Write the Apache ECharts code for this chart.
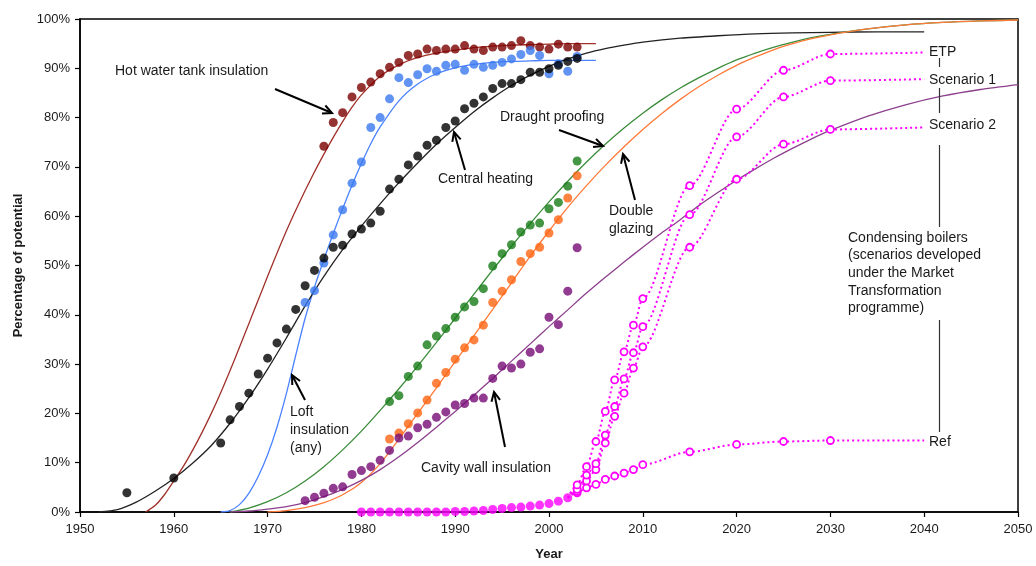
<!DOCTYPE html>
<html><head><meta charset="utf-8">
<script src="https://cdn.jsdelivr.net/npm/echarts@6/dist/echarts.min.js"></script>
<style>html,body{margin:0;padding:0;background:#fff}#c{width:1036px;height:566px}</style>
</head><body><div id="c"></div>
<script>
// ---------- axis ticks ----------
const xTicks = [1950, 1960, 1970, 1980, 1990, 2000, 2010, 2020, 2030, 2040, 2050];
const yTicks = [0, 10, 20, 30, 40, 50, 60, 70, 80, 90, 100];

// ---------- observed data (points) ----------
const hotWaterYears = [1976,1977,1978,1979,1980,1981,1982,1983,1984,1985,1986,1987,1988,1989,1990,1991,1992,1993,1994,1995,1996,1997,1998,1999,2000,2001,2002,2003];
const hotWaterValues = [74.2,79.0,81.0,84.2,86.1,87.2,88.9,90.2,91.2,92.6,92.9,93.9,93.6,93.9,93.9,94.6,93.9,93.6,94.3,94.3,94.6,95.6,94.6,94.3,93.9,94.9,94.3,94.3];

const loftYears = [1974,1975,1976,1977,1978,1979,1980,1981,1982,1983,1984,1985,1986,1987,1988,1989,1990,1991,1992,1993,1994,1995,1996,1997,1998,1999,2000,2001,2002,2003];
const loftValues = [42.5,44.9,50.5,56.2,61.3,66.7,71.0,78.0,80.0,83.8,88.1,87.1,88.7,89.9,89.4,90.6,90.8,89.6,90.8,90.2,90.6,91.2,91.9,92.8,93.6,92.6,88.9,90.9,89.4,92.4];

const heatingYears = [1955,1960,1965,1966,1967,1968,1969,1970,1971,1972,1973,1974,1975,1976,1977,1978,1979,1980,1981,1982,1983,1984,1985,1986,1987,1988,1989,1990,1991,1992,1993,1994,1995,1996,1997,1998,1999,2000,2001,2002,2003];
const heatingValues = [3.9,6.9,14.0,18.7,21.4,24.1,28.0,31.2,34.3,37.1,41.1,45.9,49.0,51.5,53.7,54.1,56.4,57.4,58.6,61.0,65.5,67.5,70.4,72.2,74.4,75.4,78.0,79.3,81.8,82.9,84.2,85.9,86.9,86.9,87.7,89.2,89.2,89.9,90.6,91.4,92.0];

const draughtYears = [1983,1984,1985,1986,1987,1988,1989,1990,1991,1992,1993,1994,1995,1996,1997,1998,1999,2000,2001,2002,2003];
const draughtValues = [22.4,23.6,27.5,29.6,33.9,35.7,37.2,39.5,41.6,42.7,45.3,49.9,52.4,54.2,56.8,58.2,58.6,61.5,62.8,66.1,71.2];

const glazingYears = [1983,1984,1985,1986,1987,1988,1989,1990,1991,1992,1993,1994,1995,1996,1997,1998,1999,2000,2001,2002,2003];
const glazingValues = [14.8,16.0,17.9,20.1,22.7,26.1,28.3,31.0,33.3,34.9,37.9,42.5,44.8,47.1,50.8,52.4,53.7,56.6,59.3,63.7,68.2];

const cavityYears = [1974,1975,1976,1977,1978,1979,1980,1981,1982,1983,1984,1985,1986,1987,1988,1989,1990,1991,1992,1993,1994,1995,1996,1997,1998,1999,2000,2001,2002,2003];
const cavityValues = [2.3,3.0,3.8,4.8,5.1,7.6,8.4,9.2,10.5,12.5,15.0,15.4,17.1,17.8,19.2,20.3,21.7,22.0,23.1,23.1,27.1,29.6,29.2,30.0,32.4,33.1,39.5,38.0,44.8,53.6];

const boilerYears = [1980,1981,1982,1983,1984,1985,1986,1987,1988,1989,1990,1991,1992,1993,1994,1995,1996,1997,1998,1999,2000,2001,2002];
const boilerValues = [0,0,0,0,0,0,0,0,0,0,0.1,0.1,0.2,0.3,0.5,0.7,0.9,1.0,1.2,1.4,1.7,2.2,2.9];

// ---------- condensing boiler scenarios ----------
const scenarioYears = [2002,2003,2004,2005,2006,2007,2008,2009,2010,2015,2020,2025,2030,2040];
const etpValues   = [2.9,5.5,9.2,14.3,20.4,26.8,32.5,37.9,43.3,66.2,81.7,89.6,92.9,93.2];
const scen1Values = [2.9,4.6,7.5,9.8,15.6,21.4,27.0,32.3,37.6,60.3,76.1,84.2,87.5,87.8];
const scen2Values = [2.9,4.2,6.3,8.6,14.0,19.4,24.1,29.2,33.5,53.7,67.5,74.6,77.6,78.0];
const refValues   = [2.9,3.9,4.9,5.6,6.6,7.3,7.9,8.6,9.6,12.2,13.7,14.3,14.5,14.5];

// ---------- fitted curves ----------
const hotWaterFitYears = [1957,1958,1959,1960,1961,1962,1963,1964,1965,1966,1967,1968,1969,1970,1971,1972,1973,1974,1975,1976,1977,1978,1979,1980,1982,1984,1986,1988,1990,1992,1994,1996,1998,2000,2002,2005];
const hotWaterFitValues = [0,1.3,3.5,6.3,9.2,12.5,16.1,20.0,24.2,28.7,33.4,38.2,43.0,47.8,52.5,57.0,61.2,65.2,69.0,72.6,76.0,79.2,82.1,84.6,88.4,90.7,92.2,93.1,93.7,94.2,94.5,94.7,94.8,94.9,95,95];

const loftFitYears = [1965,1966,1967,1968,1969,1970,1971,1972,1973,1974,1975,1976,1977,1978,1979,1980,1981,1982,1984,1986,1988,1990,1992,1994,1996,1998,2000,2002,2005];
const loftFitValues = [0,0.3,1.5,3.8,7.2,11.6,17.2,24.0,31.8,39.3,45.6,51.2,56.5,61.5,66.3,70.7,74.7,78.1,83.4,86.8,88.9,90.1,90.8,91.2,91.4,91.5,91.6,91.6,91.6];

const heatingFitYears = [1952,1954,1956,1958,1960,1962,1964,1966,1968,1970,1972,1974,1976,1978,1980,1982,1984,1986,1988,1990,1992,1994,1996,1998,2000,2002,2004,2006,2008,2010,2014,2018,2022,2026,2030,2035,2040];
const heatingFitValues = [0,0.5,2.0,4.2,6.8,9.9,13.5,18.0,23.2,29.0,35.3,41.8,47.8,53.2,58.0,62.5,66.8,70.8,74.6,78.0,81.2,84.0,86.5,88.6,90.4,91.9,93.1,94.0,94.7,95.3,96.1,96.6,97.0,97.2,97.3,97.4,97.4];

const draughtFitYears = [1966,1968,1970,1972,1974,1976,1978,1980,1982,1984,1986,1988,1990,1992,1994,1996,1998,2000,2002,2004,2006,2008,2010,2012,2014,2016,2018,2020,2022,2024,2026,2028,2030,2034,2038,2042,2046,2050];
const draughtFitValues = [0,0.8,2.1,3.9,6.3,9.2,12.6,16.4,20.6,25.0,29.6,34.4,39.3,44.2,49.1,53.9,58.5,62.9,67.1,71.0,74.6,77.9,80.9,83.6,86.0,88.1,90.0,91.7,93.1,94.3,95.3,96.2,96.9,98.0,98.8,99.3,99.6,99.8];

const glazingFitYears = [1970,1972,1974,1976,1978,1980,1982,1984,1986,1988,1990,1992,1994,1996,1998,2000,2002,2004,2006,2008,2010,2012,2014,2016,2018,2020,2022,2024,2026,2028,2030,2034,2038,2042,2046,2050];
const glazingFitValues = [0,0.3,0.9,1.9,3.5,6.0,9.8,14.8,20.0,25.2,30.5,35.8,41.1,46.5,51.9,57.0,61.8,66.2,70.3,74.1,77.6,80.8,83.7,86.3,88.6,90.6,92.3,93.8,95.0,96.0,96.8,98.0,98.8,99.3,99.6,99.8];

const cavityFitYears = [1966,1968,1970,1972,1974,1976,1978,1980,1982,1984,1986,1988,1990,1992,1994,1996,1998,2000,2002,2004,2006,2008,2010,2012,2014,2016,2018,2020,2022,2024,2026,2028,2030,2034,2038,2042,2046,2050];
const cavityFitValues = [0,0.2,0.6,1.1,1.9,3.1,4.6,6.4,8.6,11.2,14.1,17.2,20.4,23.7,27.1,30.6,34.1,37.6,41.0,44.4,47.6,50.7,53.7,56.6,59.3,62.2,64.8,67.3,69.6,71.8,73.8,75.7,77.4,80.3,82.6,84.4,85.7,86.7];

// ---------- colours ----------
const C = {
  hotPt:'#7a0000', hotLn:'#a0302a',
  loftPt:'#3a78f0', loftLn:'#4a82ff',
  heatPt:'#000000', heatLn:'#222222',
  drPt:'#157a15', drLn:'#3b8c3b',
  glPt:'#ff6410', glLn:'#ff7a38',
  cvPt:'#760a76', cvLn:'#8c3f8c',
  mag:'#ff00ff'
};
const FONT = '"Liberation Sans", Arial, sans-serif';
const TXT = '#1a1a1a';

function pairs(xs, ys){ return xs.map((x,i)=>[x, ys[i]]); }
function fitLine(xs, ys, color){
  return {type:'line', data:pairs(xs,ys), symbol:'none', showSymbol:false, smooth:0.25,
          lineStyle:{color:color, width:1.3}, z:2, silent:true};
}
function dots(xs, ys, color){
  return {type:'scatter', data:pairs(xs,ys), symbol:'circle', symbolSize:9, itemStyle:{color:color}, z:5, silent:true};
}
function scen(xs, ys){
  const data = xs.map((x,i)=>{ const it={value:[x, ys[i]]}; if(i===0 || i===xs.length-1) it.symbol='none'; return it; });
  return {type:'line', data:data, symbol:'circle', symbolSize:7, showSymbol:true, showAllSymbol:true,
          smooth:0.3, smoothMonotone:'x',
          itemStyle:{color:'#ffffff', borderColor:C.mag, borderWidth:1.8},
          lineStyle:{color:C.mag, width:2, type:[2,3]}, z:4, silent:true};
}

// ---------- annotations ----------
const textItems = [
  ['Hot water tank insulation', 115, 71],
  ['Central heating', 438, 179],
  ['Draught proofing', 500, 117],
  ['Double', 609, 211], ['glazing', 609, 229],
  ['Loft', 290, 412], ['insulation', 290, 430], ['(any)', 290, 448],
  ['Cavity wall insulation', 421, 468],
  ['ETP', 929, 52], ['Scenario 1', 929, 80], ['Scenario 2', 929, 125],
  ['Condensing boilers', 848, 238], ['(scenarios developed', 848, 255], ['under the Market', 848, 273],
  ['Transformation', 848, 291], ['programme)', 848, 308],
  ['Ref', 929, 442]
];
const arrowItems = [
  [275, 89, 332, 113],
  [465, 170, 454, 132],
  [559, 130, 603, 146],
  [635, 200, 623, 154],
  [305, 400, 292, 375],
  [505, 447, 494, 392]
];
const vSegments = [[58,67],[88,113],[145,227],[320,432]];

const graphics = [];
textItems.forEach(t=>{
  graphics.push({type:'text', x:t[1], y:t[2], silent:true, z:10,
    style:{text:t[0], font:'14px ' + FONT, fill:TXT, align:'left', verticalAlign:'middle'}});
});
arrowItems.forEach(a=>{
  const [x1,y1,x2,y2] = a;
  const ang = Math.atan2(y2-y1, x2-x1);
  const L = 10, w = 0.45;
  const p1 = [x2 - L*Math.cos(ang - w), y2 - L*Math.sin(ang - w)];
  const p2 = [x2 - L*Math.cos(ang + w), y2 - L*Math.sin(ang + w)];
  graphics.push({type:'line', silent:true, z:10, shape:{x1:x1,y1:y1,x2:x2,y2:y2}, style:{stroke:'#000', lineWidth:2}});
  graphics.push({type:'polyline', silent:true, z:10, shape:{points:[p1,[x2,y2],p2]}, style:{stroke:'#000', lineWidth:2, fill:null}});
});
vSegments.forEach(s=>{
  graphics.push({type:'line', silent:true, z:10, shape:{x1:939.5,y1:s[0],x2:939.5,y2:s[1]}, style:{stroke:'#333', lineWidth:1.2}});
});

const chart = echarts.init(document.getElementById('c'), null, {renderer:'canvas'});
chart.setOption({
  animation:false,
  backgroundColor:'#ffffff',
  grid:{left:80, right:18, top:19, bottom:52, show:true, borderColor:'#000', borderWidth:1.5, backgroundColor:'transparent'},
  xAxis:{type:'value', min:xTicks[0], max:xTicks[xTicks.length-1], interval:10,
    axisLine:{show:true, onZero:false, lineStyle:{color:'#000', width:1.5}},
    axisTick:{show:true, length:5, lineStyle:{color:'#000', width:1.2}},
    axisLabel:{color:TXT, fontSize:13, fontFamily:FONT, margin:11, formatter:v=>String(v)},
    splitLine:{show:false},
    name:'Year', nameLocation:'middle', nameGap:36,
    nameTextStyle:{color:TXT, fontSize:13, fontWeight:'bold', fontFamily:FONT}},
  yAxis:{type:'value', min:yTicks[0], max:yTicks[yTicks.length-1], interval:10,
    axisLine:{show:true, lineStyle:{color:'#000', width:1.5}},
    axisTick:{show:true, length:5, lineStyle:{color:'#000', width:1.2}},
    axisLabel:{color:TXT, fontSize:13, fontFamily:FONT, margin:10, formatter:v=>v+'%'},
    splitLine:{show:false},
    name:'Percentage of potential', nameLocation:'middle', nameGap:55,
    nameTextStyle:{color:TXT, fontSize:13, fontWeight:'bold', fontFamily:FONT}},
  series:[
    fitLine(hotWaterFitYears, hotWaterFitValues, C.hotLn),
    fitLine(loftFitYears, loftFitValues, C.loftLn),
    fitLine(heatingFitYears, heatingFitValues, C.heatLn),
    fitLine(draughtFitYears, draughtFitValues, C.drLn),
    fitLine(glazingFitYears, glazingFitValues, C.glLn),
    fitLine(cavityFitYears, cavityFitValues, C.cvLn),
    scen(scenarioYears, refValues),
    scen(scenarioYears, scen2Values),
    scen(scenarioYears, scen1Values),
    scen(scenarioYears, etpValues),
    dots(hotWaterYears, hotWaterValues, C.hotPt),
    dots(loftYears, loftValues, C.loftPt),
    dots(heatingYears, heatingValues, C.heatPt),
    dots(draughtYears, draughtValues, C.drPt),
    dots(glazingYears, glazingValues, C.glPt),
    dots(cavityYears, cavityValues, C.cvPt),
    dots(boilerYears, boilerValues, C.mag)
  ],
  graphic: graphics
});
</script></body></html>
